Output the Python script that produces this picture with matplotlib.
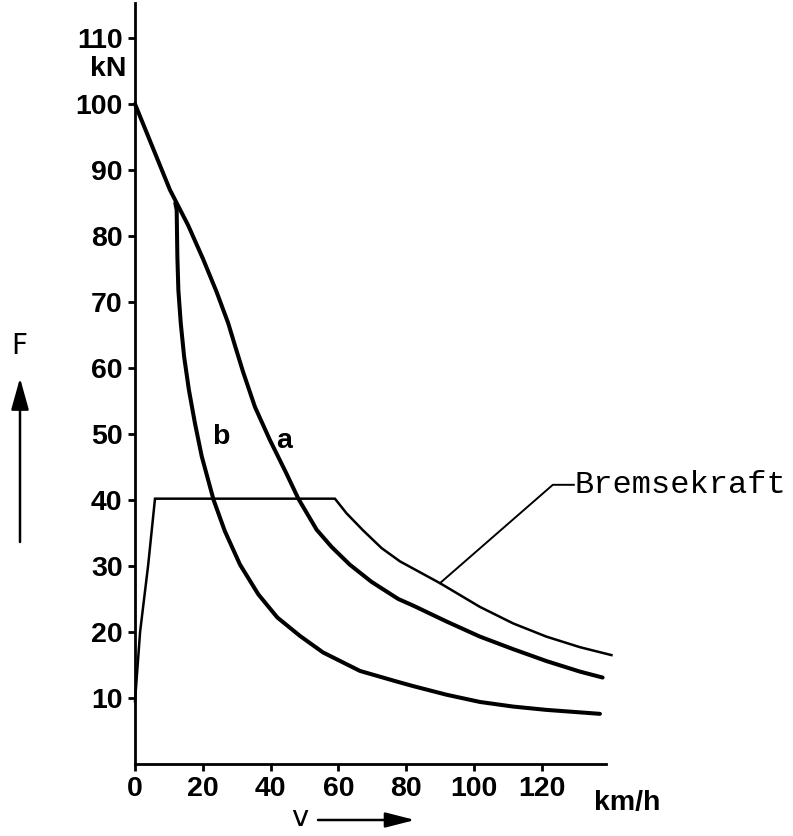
import matplotlib
matplotlib.use("Agg")
import matplotlib.pyplot as plt

# ---- data ----
xticks = [0, 20, 40, 60, 80, 100, 120]
yticks = [10, 20, 30, 40, 50, 60, 70, 80, 90, 100, 110]

# curve a (thick)
a_v = [0, 10.3, 15.7, 20.1, 24.1, 27.5, 29.5, 31.9, 35.4, 39.8, 44.7, 48.2, 53.6, 58.0,
       63.4, 69.8, 77.7, 82.1, 91.9, 101.8, 111.6, 121.4, 131.3, 138.0]
a_F = [100, 87.0, 81.6, 76.5, 71.5, 66.8, 63.4, 59.4, 54.1, 49.1, 44.0, 40.2, 35.5, 32.9,
       30.2, 27.6, 25.0, 24.0, 21.6, 19.3, 17.4, 15.6, 14.0, 13.1]

# curve b (thick)
b_v = [11.9, 12.3, 12.5, 12.8, 13.5, 14.5, 15.9, 17.7, 19.7, 23.2, 26.5, 31.0, 36.4,
       42.0, 48.7, 55.5, 66.4, 77.2, 82.1, 91.9, 101.8, 111.6, 121.4, 137.2]
b_F = [85.0, 83.9, 76.9, 71.8, 66.8, 61.7, 56.7, 51.6, 46.6, 40.0, 35.3, 30.2, 25.7,
       22.2, 19.4, 16.9, 14.1, 12.5, 11.8, 10.5, 9.4, 8.7, 8.2, 7.6]

# Bremsekraft (thin)
br_v = [0, 1.5, 3.9, 5.9, 59.0, 62.4, 67.3, 72.8, 78.2, 90.0, 101.8, 111.6, 121.4, 131.3, 140.6]
br_F = [9.5, 20.0, 30.2, 40.2, 40.2, 38.0, 35.4, 32.7, 30.7, 27.4, 23.8, 21.3, 19.3, 17.7, 16.5]

W, H = 793, 836
fig = plt.figure(figsize=(W / 100, H / 100), dpi=100)
ax = fig.add_axes([135 / W, (H - 764) / H, (606 - 135) / W, (764 - 3) / H])
ax.set_xlim(0, 139)
ax.set_ylim(0, 115.3)

for s in ["top", "right"]:
    ax.spines[s].set_visible(False)
for s in ["left", "bottom"]:
    ax.spines[s].set_linewidth(2.0)

lab_font = dict(family=["Liberation Sans", "DejaVu Sans"], weight="bold", size=20.5)

ax.set_xticks(xticks)
ax.set_yticks(yticks)
ax.set_xticklabels([str(t) for t in xticks], fontdict=lab_font)
ax.set_yticklabels([str(t) for t in yticks], fontdict=lab_font)
ax.tick_params(axis="both", direction="out", length=5, width=2.0, color="black")
ax.tick_params(axis="y", pad=4)
ax.tick_params(axis="x", pad=4)

ax.plot(a_v, a_F, color="black", lw=2.9, solid_joinstyle="round", solid_capstyle="round", clip_on=False)
ax.plot(b_v, b_F, color="black", lw=2.9, solid_joinstyle="round", solid_capstyle="round", clip_on=False)
ax.plot(br_v, br_F, color="black", lw=1.8, solid_joinstyle="miter", clip_on=False)

# curve labels
ax.text(25.2, 49.5, "b", ha="center", va="center", **lab_font)
ax.text(44.1, 48.9, "a", ha="center", va="center", **lab_font)

# unit labels
ax.text(-2.6, 105.3, "kN", ha="right", va="center", clip_on=False, **lab_font)
ax.text(145.4, -3.9, "km/h", ha="center", va="top", clip_on=False, **lab_font)

# Bremsekraft leader and label
ax.plot([90.0, 123.3, 129.5], [27.4, 42.3, 42.3], color="black", lw=1.4, clip_on=False)
ax.text(129.6, 41.1, "Bremsekraft", ha="left", va="baseline",
        family=["Liberation Mono", "DejaVu Sans Mono"], size=23, clip_on=False)

# axis symbols with arrows
fig.text(19 / W, (H - 346) / H, "F", ha="center", va="center", size=20, family="DejaVu Sans")
fig.text(300 / W, (H - 818) / H, "v", ha="center", va="center", size=21, family="DejaVu Sans")
ax.annotate("", xy=(20, H - 378), xytext=(20, H - 542), xycoords="figure pixels",
            textcoords="figure pixels",
            arrowprops=dict(arrowstyle="-|>,head_length=0.97,head_width=0.27",
                            mutation_scale=20, lw=1.8, color="black", shrinkA=0, shrinkB=0))
ax.annotate("", xy=(415, H - 820), xytext=(318, H - 820), xycoords="figure pixels",
            textcoords="figure pixels",
            arrowprops=dict(arrowstyle="-|>,head_length=0.9,head_width=0.23",
                            mutation_scale=20, lw=1.8, color="black", shrinkA=0, shrinkB=0))

fig.savefig("out.png", dpi=100)
